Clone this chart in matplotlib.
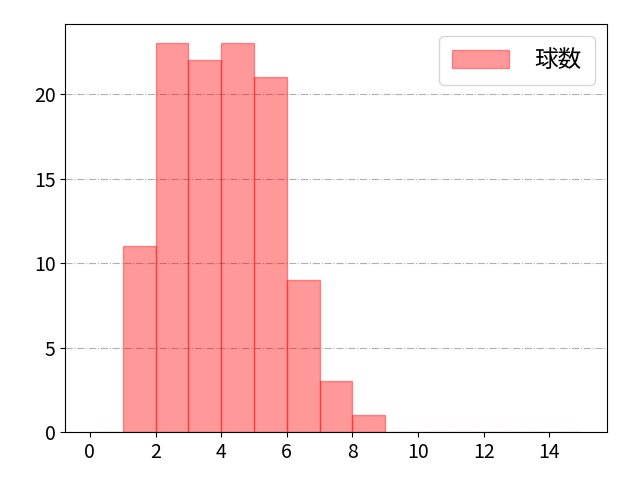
import numpy as np
import matplotlib
matplotlib.use("Agg")
import matplotlib.pyplot as plt

plt.rcParams['font.family'] = ['Noto Sans CJK JP', 'DejaVu Sans']

# histogram bins (left edges) and counts
bin_left = [0, 1, 2, 3, 4, 5, 6, 7, 8, 9, 10, 11, 12, 13, 14]
counts = [0, 11, 23, 22, 23, 21, 9, 3, 1, 0, 0, 0, 0, 0, 0]
label = "球数"

edges = bin_left + [bin_left[-1] + 1]

fig, ax = plt.subplots(figsize=(6.4, 4.8), dpi=100)
fig.subplots_adjust(left=0.102, right=0.948, top=0.95, bottom=0.10)
ax.hist(bin_left, bins=edges, weights=counts, color='red', alpha=0.4,
        edgecolor='red', linewidth=1, label=label)
ax.grid(axis='y', linestyle='-.', color='#b0b0b0', linewidth=0.8)
ax.set_axisbelow(True)
ax.set_xticks(np.arange(0, 15, 2))
ax.legend(loc='upper right', fontsize=17, borderpad=0.55, handlelength=2.4,
          handleheight=0.8, handletextpad=1.1)
ax.tick_params(labelsize=14)

plt.savefig("out.png")
